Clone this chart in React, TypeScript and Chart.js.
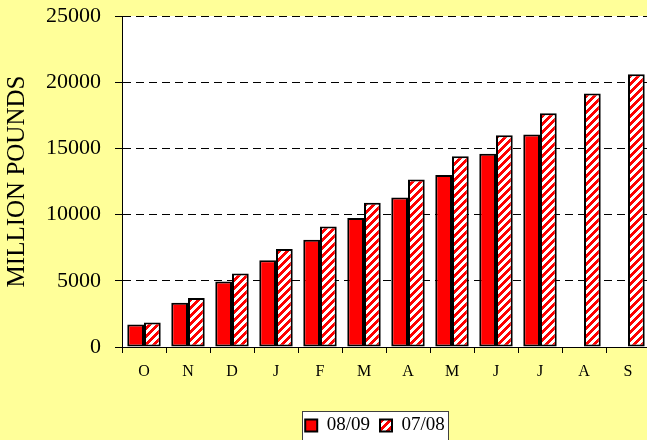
import React, { useEffect, useRef } from 'react';
import { Chart, registerables } from 'chart.js';

Chart.register(...registerables);

const MONTHS = ['O', 'N', 'D', 'J', 'F', 'M', 'A', 'M', 'J', 'J', 'A', 'S'];
const SERIES_NAMES = ['08/09', '07/08'];
const VALUES_0809 = [1700, 3350, 4950, 6550, 8100, 9750, 11300, 13000, 14600, 16050, null, null];
const VALUES_0708 = [1850, 3700, 5550, 7400, 9100, 10900, 12650, 14400, 16000, 17650, 19150, 20600];
const Y_TICKS = [0, 5000, 10000, 15000, 20000, 25000];
const Y_TITLE = 'MILLION POUNDS';

const SERIF = '"Liberation Serif", "Times New Roman", serif';
const PAGE_BG = '#FFFF99';
const LEGEND_CENTER_X = 375;
const LEGEND_DY = 5;

function makeStripePattern(): CanvasPattern | string {
  const c = document.createElement('canvas');
  c.width = 8;
  c.height = 8;
  const ctx = c.getContext('2d');
  if (!ctx) return '#ff0000';
  ctx.fillStyle = '#ffffff';
  ctx.fillRect(0, 0, 8, 8);
  ctx.fillStyle = '#ff0000';
  for (let y = 0; y < 8; y++) {
    for (let x = 0; x < 8; x++) {
      if ((x + y) % 8 < 4) ctx.fillRect(x, y, 1, 1);
    }
  }
  return ctx.createPattern(c, 'repeat') || '#ff0000';
}

const backgroundPlugin = {
  id: 'bgPlugin',
  afterUpdate(chart: any) {
    const lg = chart.legend;
    if (!lg) return;
    const cur = (lg.left + lg.right) / 2;
    const shift = LEGEND_CENTER_X - cur;
    lg.left += shift;
    lg.right += shift;
    lg.top += LEGEND_DY;
    lg.bottom += LEGEND_DY;
  },
  beforeDraw(chart: any) {
    const { ctx, chartArea, width, height } = chart;
    ctx.save();
    ctx.fillStyle = PAGE_BG;
    ctx.fillRect(0, 0, width, height);
    ctx.fillStyle = '#ffffff';
    ctx.fillRect(chartArea.left, chartArea.top, chartArea.right - chartArea.left, chartArea.bottom - chartArea.top);
    const lg = chart.legend;
    if (lg && lg.lineWidths) {
      const cx = (lg.left + lg.right) / 2;
      const w = lg.lineWidths[0] - 4;
      const hb = lg.legendHitBoxes && lg.legendHitBoxes[0];
      const top = hb ? hb.top + LEGEND_DY - 5 : lg.top;
      const h = hb ? hb.height + 12 : lg.height;
      const x0 = Math.round(cx - w / 2) + 0.5;
      const y0 = Math.round(top) + 0.5;
      ctx.fillStyle = '#ffffff';
      ctx.fillRect(x0, y0, Math.round(w), Math.round(h));
      ctx.strokeStyle = '#404040';
      ctx.lineWidth = 1;
      ctx.strokeRect(x0, y0, Math.round(w), Math.round(h));
    }
    ctx.restore();
  },
};

export default function App() {
  const ref = useRef<HTMLCanvasElement | null>(null);

  useEffect(() => {
    document.body.style.margin = '0';
    document.body.style.overflow = 'hidden';
    const canvas = ref.current;
    if (!canvas) return;
    const stripe = makeStripePattern();
    const chart = new Chart(canvas, {
      type: 'bar',
      data: {
        labels: MONTHS,
        datasets: [
          {
            label: SERIES_NAMES[0],
            data: VALUES_0809,
            backgroundColor: '#ff0000',
            borderColor: '#000000',
            borderWidth: 2,
            borderSkipped: false,
          },
          {
            label: SERIES_NAMES[1],
            data: VALUES_0708,
            backgroundColor: stripe as any,
            borderColor: '#000000',
            borderWidth: 2,
            borderSkipped: false,
          },
        ],
      },
      options: {
        responsive: false,
        animation: false,
        devicePixelRatio: 1,
        layout: { padding: { left: 0, right: 10, top: 16, bottom: 0 } },
        datasets: {
          bar: { categoryPercentage: 0.76, barPercentage: 1.0 },
        },
        plugins: {
          legend: {
            position: 'bottom',
            labels: {
              boxWidth: 12,
              boxHeight: 12,
              color: '#000',
              padding: 10,
              font: { family: SERIF, size: 19 },
            },
          },
          tooltip: { enabled: false },
          title: { display: false },
        },
        scales: {
          x: {
            offset: true,
            grid: {
              display: true,
              drawOnChartArea: false,
              drawTicks: true,
              tickLength: 6,
              offset: true,
              color: '#000',
              tickColor: '#000',
            },
            border: { display: true, color: '#000', width: 1 },
            ticks: {
              color: '#000',
              padding: 9,
              maxRotation: 0,
              autoSkip: false,
              font: { family: SERIF, size: 16 },
            },
            afterFit(scale: any) {
              scale.height = 54;
            },
          },
          y: {
            min: 0,
            max: 25000,
            afterBuildTicks(scale: any) {
              scale.ticks = Y_TICKS.map((v) => ({ value: v }));
            },
            grid: {
              color: '#000',
              lineWidth: 1,
              drawTicks: true,
              tickLength: 7,
              tickColor: '#000',
              tickBorderDash: [],
            },
            border: { display: true, color: '#000', width: 1, dash: [8, 5] },
            ticks: {
              color: '#000',
              padding: 14,
              font: { family: SERIF, size: 22 },
              callback: (v: any) => String(v),
            },
            title: {
              display: true,
              text: Y_TITLE,
              color: '#000',
              font: { family: SERIF, size: 25 },
              padding: { top: 2, bottom: 0 },
            },
            afterFit(scale: any) {
              scale.width = 122;
              scale.paddingTop = 0;
              scale.paddingBottom = 0;
            },
          },
        },
      },
      plugins: [backgroundPlugin],
    });
    return () => chart.destroy();
  }, []);

  return (
    <div style={{ width: 647, height: 440, overflow: 'hidden', position: 'relative' }}>
      <canvas ref={ref} width={660} height={440} style={{ display: 'block' }} />
    </div>
  );
}
